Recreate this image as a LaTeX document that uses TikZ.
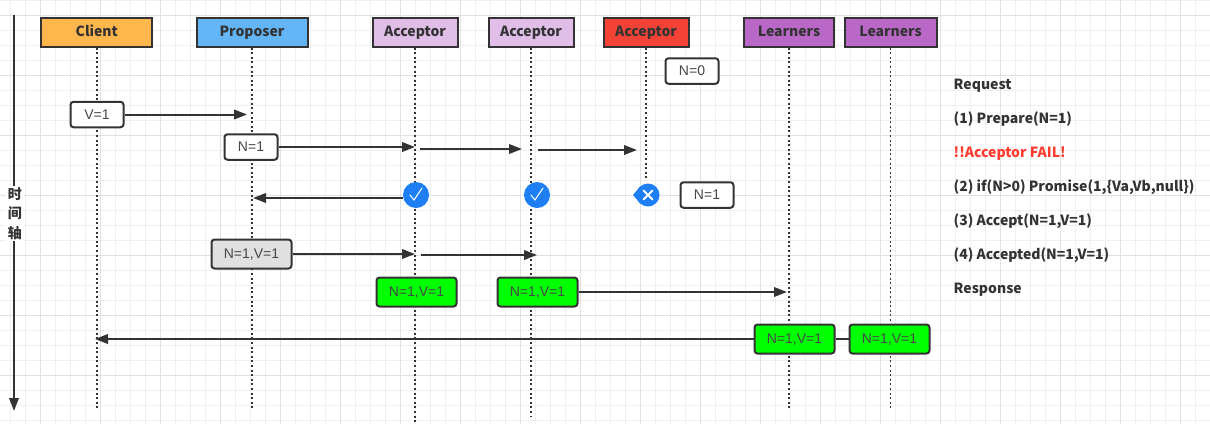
\documentclass[tikz,border=0pt]{standalone}
\usepackage{fontspec}
\setmainfont{Liberation Sans}
\newfontfamily\cjkfont{Noto Sans CJK SC}
\usetikzlibrary{arrows.meta,calc}
\definecolor{inkc}{HTML}{333333}
\definecolor{gridc}{HTML}{EFEFEF}
\definecolor{gridmajor}{HTML}{E1E1E1}
\definecolor{clientc}{HTML}{FFB74D}
\definecolor{proposerc}{HTML}{64B5F6}
\definecolor{acceptorc}{HTML}{E1BEE7}
\definecolor{failc}{HTML}{F44336}
\definecolor{learnerc}{HTML}{BA68C8}
\definecolor{okc}{HTML}{00FF00}
\definecolor{grayc}{HTML}{E0E0E0}
\definecolor{iconc}{HTML}{1E7FF5}
\definecolor{redtext}{HTML}{FF3B30}
\tikzset{
  role/.style={draw=inkc,line width=2pt,minimum height=29pt,inner sep=0pt,text height=12.5pt,text depth=3.5pt,text=inkc,font=\cjkfont\bfseries\fontsize{14}{16}\selectfont},
  msgbox/.style={draw=inkc,fill=white,line width=2pt,rounded corners=3pt,minimum width=53pt,minimum height=25.5pt,inner sep=0pt,text height=11pt,text depth=2pt,text=inkc!90,font=\fontsize{14}{16}\selectfont},
  valbox/.style={msgbox,minimum width=80pt,minimum height=29pt},
  lifeline/.style={inkc,line width=2pt,dash pattern=on 2pt off 2.6pt},
  msg/.style={inkc,line width=2pt,->},
  note/.style={anchor=west,inner sep=0pt,text height=12.5pt,text depth=3.5pt,text=inkc,font=\cjkfont\bfseries\fontsize{14}{16}\selectfont},
  tick/.style={white,line width=1.3pt,line cap=round}
}
\begin{document}
\begin{tikzpicture}[x=1pt,y=-1pt,>={Triangle[length=13pt,width=9.5pt]}]
\useasboundingbox (0,0) rectangle (1210,424);
\fill[white] (0,0) rectangle (1210,424);
% grid
\foreach \gx in {10,25,...,1210} \draw[gridc,line width=1pt] (\gx,0) -- (\gx,424);
\foreach \gy in {0,15,...,424} \draw[gridc,line width=1pt] (0,\gy) -- (1210,\gy);
\foreach \gx in {40,100,...,1210} \draw[gridmajor,line width=1pt] (\gx,0) -- (\gx,424);
\foreach \gy in {15,75,...,424} \draw[gridmajor,line width=1pt] (0,\gy) -- (1210,\gy);

% roles
\node[role,fill=clientc,minimum width=111pt] (client) at (96.8,32) {Client};
\node[role,fill=proposerc,minimum width=111pt] (proposer) at (252,32) {Proposer};
\node[role,fill=acceptorc,minimum width=85pt] (acceptora) at (415,32) {Acceptor};
\node[role,fill=acceptorc,minimum width=85pt] (acceptorb) at (531,32) {Acceptor};
\node[role,fill=failc,minimum width=85pt] (acceptorc) at (646,32) {Acceptor};
\node[role,fill=learnerc,minimum width=90pt] (learnera) at (789,32) {Learners};
\node[role,fill=learnerc,minimum width=92pt] (learnerb) at (890.5,32) {Learners};

% lifelines
\coordinate (clientend) at (97,408);
\coordinate (proposerend) at (252,408);
\coordinate (acceptoraend) at (415,424);
\coordinate (acceptorbend) at (531,417);
\coordinate (acceptorcend) at (646,178);
\coordinate (learneraend) at (789,408);
\coordinate (learnerbend) at (890.5,408);
\draw[lifeline] (client.south -| clientend) -- (clientend);
\draw[lifeline] (proposer.south) -- (proposerend);
\draw[lifeline] (acceptora.south) -- (acceptoraend);
\draw[lifeline] (acceptorb.south) -- (acceptorbend);
\draw[lifeline,line width=1.5pt] (acceptorc.south) -- (acceptorcend);
\draw[lifeline] (learnera.south) -- (learneraend);
\draw[lifeline,line width=1.5pt] (learnerb.south) -- (learnerbend);

% time axis
\node[fill=white,inner sep=1pt,text=inkc,align=center,text width=16pt,font=\cjkfont\bfseries\fontsize{14}{19.5}\selectfont] (timelabel) at (15,213.5) {时\\间\\轴};
\coordinate (timetop) at (14,15);
\coordinate (timebottom) at (14,411);
\draw[inkc,line width=2pt] (timetop) -- (timelabel.north -| timetop);
\draw[msg] (timelabel.south -| timetop) -- (timebottom);

% message boxes
\node[msgbox] (vbox) at (97,114.5) {V=1};
\node[msgbox] (nbox) at (251,147) {N=1};
\node[msgbox] (nzero) at (692,71) {N=0};
\node[msgbox] (none) at (707,195) {N=1};
\node[valbox,fill=grayc] (nvgray) at (251.5,254) {N=1,V=1};
\node[valbox,fill=okc] (nva) at (416.5,292) {N=1,V=1};
\node[valbox,fill=okc] (nvb) at (537.5,292) {N=1,V=1};
\node[valbox,fill=okc] (nvc) at (794.5,339) {N=1,V=1};
\node[valbox,fill=okc] (nvd) at (889.5,339) {N=1,V=1};

% answers
\node[circle,fill=iconc,minimum size=26pt,inner sep=0pt] (oka) at (416,195) {};
\node[circle,fill=iconc,minimum size=26pt,inner sep=0pt] (okb) at (537,195) {};
\node[circle,fill=iconc,minimum size=23pt,inner sep=0pt] (bad) at (648,195) {};
\fill[iconc] (bad.center) ++(-15,0) -- (bad.130) -- (bad.230) -- cycle;
\draw[tick,line width=1pt] ($(oka)+(-6,0)$) -- ($(oka)+(-2,5)$) -- ($(oka)+(6,-7)$);
\draw[tick,line width=1pt] ($(okb)+(-6,0)$) -- ($(okb)+(-2,5)$) -- ($(okb)+(6,-7)$);
\draw[tick,line width=2pt] ($(bad)+(-4.5,-4.5)$) -- ($(bad)+(4.5,4.5)$) ($(bad)+(-4.5,4.5)$) -- ($(bad)+(4.5,-4.5)$);

% messages
\coordinate (vtip) at (247,114.5);
\coordinate (ntipa) at (415,147);
\coordinate (nstartb) at (420,149);
\coordinate (ntipb) at (522,149);
\coordinate (nstartc) at (538,150);
\coordinate (ntipc) at (637,150);
\coordinate (promisetip) at (253,198);
\coordinate (promisestart) at (403,198);
\coordinate (gtipa) at (415,254);
\coordinate (gstartb) at (421,255);
\coordinate (gtipb) at (537,255);
\coordinate (resulttip) at (787,292);
\coordinate (replytip) at (95,339);
\draw[msg] (vbox) -- (vtip);
\draw[msg] (nbox) -- (ntipa);
\draw[msg] (nstartb) -- (ntipb);
\draw[msg] (nstartc) -- (ntipc);
\draw[msg] (promisestart) -- (promisetip);
\draw[msg] (nvgray) -- (gtipa);
\draw[msg] (gstartb) -- (gtipb);
\draw[msg] (nvb) -- (resulttip);
\draw[msg] (nvc) -- (replytip);
\draw[inkc,line width=2pt] (nvc) -- (nvd);

% notes
\node[note] (request) at (953.5,85) {Request};
\node[note] (prepare) at (953.5,119) {(1) Prepare(N=1)};
\node[note,text=redtext] (fail) at (953.5,153) {!!Acceptor FAIL!};
\node[note] (promise) at (953.5,187) {(2) if(N>0) Promise(1,\{Va,Vb,null\})};
\node[note] (accept) at (953.5,221) {(3) Accept(N=1,V=1)};
\node[note] (accepted) at (953.5,255) {(4) Accepted(N=1,V=1)};
\node[note] (response) at (953.5,289) {Response};
\end{tikzpicture}
\end{document}
